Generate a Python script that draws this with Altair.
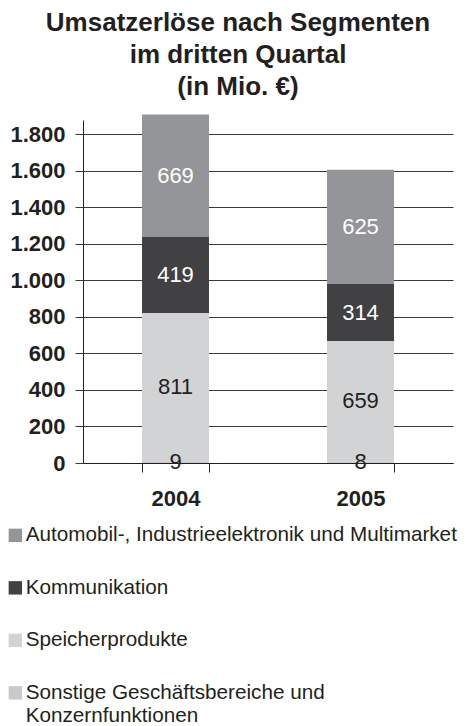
import altair as alt
import pandas as pd

years = ["2004", "2005"]
segments = [
    "Automobil-, Industrieelektronik und Multimarket",
    "Kommunikation",
    "Speicherprodukte",
    "Sonstige Geschäftsbereiche und Konzernfunktionen",
]
values_2004 = [669, 419, 811, 9]
values_2005 = [625, 314, 659, 8]
stack_rank = [4, 3, 2, 1]  # 1 = bottom of the stack
colors = ["#939598", "#414042", "#d1d3d4", "#c8c9cb"]
y_ticks = [0, 200, 400, 600, 800, 1000, 1200, 1400, 1600, 1800]
title_lines = ["Umsatzerlöse nach Segmenten", "im dritten Quartal", "(in Mio. €)"]
legend_split = {segments[3]: ["Sonstige Geschäftsbereiche und", "Konzernfunktionen"]}
white_text_segments = [segments[0], segments[1]]

rows = []
for yr, vals in zip(years, [values_2004, values_2005]):
    for s, v, r in zip(segments, vals, stack_rank):
        rows.append({"year": yr, "segment": s, "value": v, "rank": r})
df = pd.DataFrame(rows)

FONT = "Liberation Sans"
INK = "#231f20"
GRID = "#3a3a3a"

split_key = list(legend_split.keys())[0]
split_vals = legend_split[split_key]
label_expr = (
    f"datum.label == '{split_key}' ? ['{split_vals[0]}', '{split_vals[1]}'] : datum.label"
)

base = (
    alt.Chart(df)
    .transform_stack(
        stack="value",
        groupby=["year"],
        sort=[alt.SortField("rank", order="ascending")],
        as_=["v0", "v1"],
    )
    .transform_calculate(mid="(datum.v0 + datum.v1) / 2")
)

x_scale = alt.Scale(paddingInner=0.638, paddingOuter=0.319)
y_scale = alt.Scale(domain=[0, 1878], nice=False, zero=True)

x_axis = alt.Axis(
    title=None,
    labelAngle=0,
    tickBand="extent",
    tickSize=9,
    tickColor=INK,
    domainColor=INK,
    labelFont=FONT,
    labelFontSize=22,
    labelFontWeight="bold",
    labelColor=INK,
    labelPadding=16,
)
y_axis = alt.Axis(
    title=None,
    values=y_ticks,
    labelOverlap=False,
    labelExpr="replace(format(datum.value, ','), ',', '.')",
    labelFont=FONT,
    labelFontSize=22,
    labelFontWeight="bold",
    labelColor=INK,
    labelPadding=10,
    tickSize=8,
    tickColor=GRID,
    grid=True,
    gridColor=GRID,
    gridWidth=1,
    gridOpacity=1,
    domainColor=INK,
)

bars = base.mark_bar(stroke=None).encode(
    x=alt.X("year:N", scale=x_scale, axis=x_axis),
    y=alt.Y("v0:Q", scale=y_scale, axis=y_axis),
    y2="v1:Q",
    color=alt.Color(
        "segment:N",
        scale=alt.Scale(domain=segments, range=colors),
        legend=alt.Legend(
            orient="none",
            legendX=-78,
            legendY=405,
            direction="vertical",
            title=None,
            symbolType="square",
            symbolSize=180,
            symbolStrokeWidth=0,
            symbolOpacity=1,
            labelFont=FONT,
            labelFontSize=20.7,
            labelColor=INK,
            labelLimit=1000,
            labelBaseline="middle",
            labelOffset=0,
            rowPadding=30.5,
            labelExpr=label_expr,
        ),
    ),
)

labels = base.mark_text(font=FONT, fontSize=22, baseline="middle", align="center").encode(
    x=alt.X("year:N", scale=x_scale, axis=x_axis),
    y=alt.Y("mid:Q", scale=y_scale, axis=y_axis),
    text=alt.Text("value:Q"),
    color=alt.condition(
        alt.FieldOneOfPredicate(field="segment", oneOf=white_text_segments),
        alt.value("#ffffff"),
        alt.value(INK),
    ),
)

chart = (
    alt.layer(bars, labels)
    .properties(
        width=370,
        height=343,
        autosize=alt.AutoSizeParams(type="none"),
        padding={"left": 75, "top": 112, "right": 9, "bottom": 263},
        title=alt.TitleParams(
            text=title_lines,
            font=FONT,
            fontSize=26,
            fontWeight="bold",
            color=INK,
            anchor="middle",
            dx=-30,
            offset=15,
            lineHeight=32,
        ),
    )
    .configure_view(stroke=None)
)

chart.save("out.html", embed_options={"renderer": "svg", "actions": False})
